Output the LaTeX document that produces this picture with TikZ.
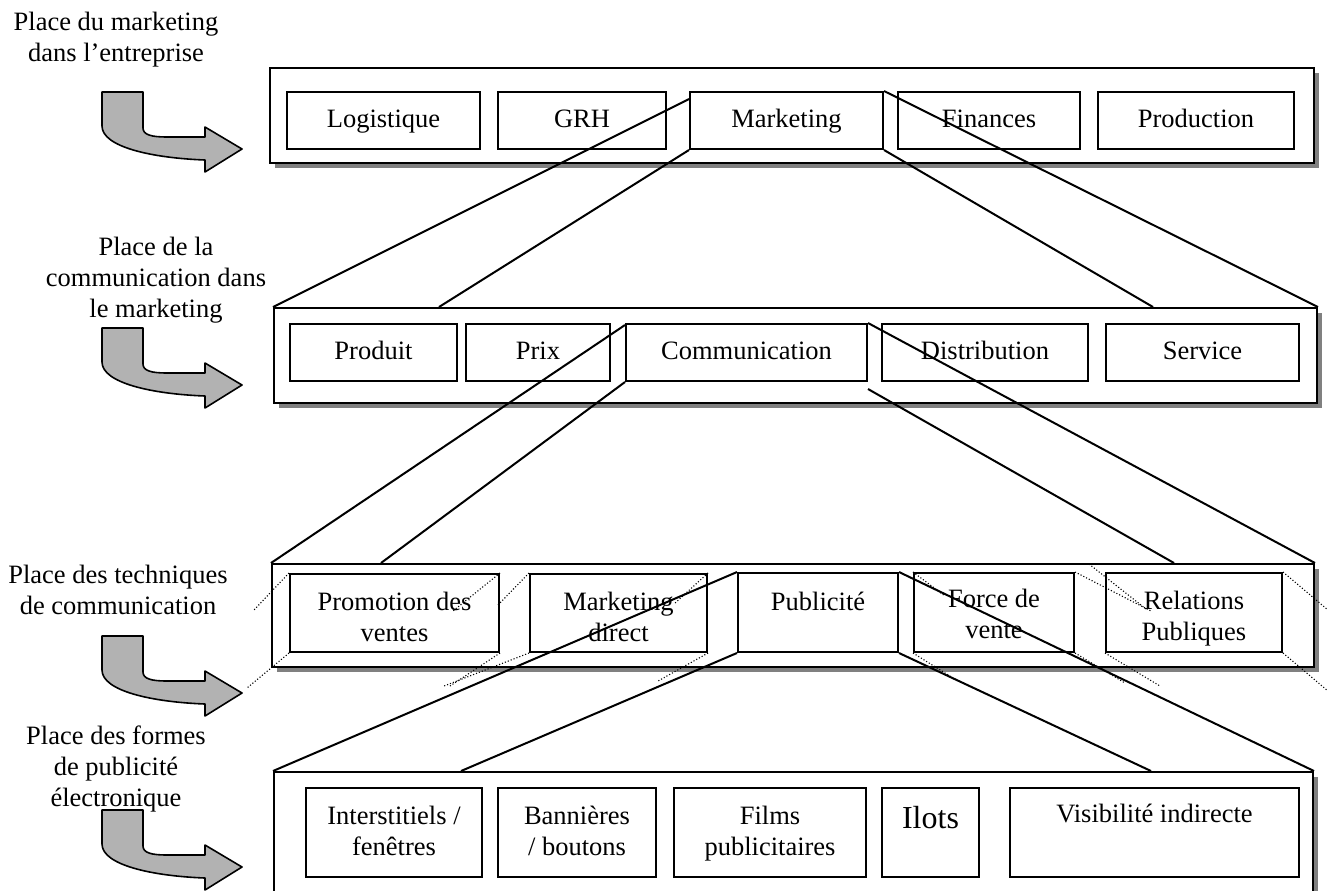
\documentclass[tikz,border=0pt]{standalone}
\usepackage{fontspec}
\setmainfont{Liberation Serif}
\usetikzlibrary{fit,calc,shadows}
\begin{document}
\begin{tikzpicture}[x=0.5pt,y=-0.5pt,
  every node/.style={font=\fontsize{13.25}{15.5}\selectfont},
  obox/.style={draw, line width=1pt, fill=white, inner sep=0pt,
    general shadow={fill=black!50, shadow xshift=2.6pt, shadow yshift=-2.6pt}},
  ibox/.style={draw, line width=1pt, fill=white, inner sep=0pt},
  link/.style={line width=1pt},
  hint/.style={line width=0.55pt, dash pattern=on 0.55pt off 1pt},
  lbl/.style={align=center, inner sep=0pt, anchor=north},
  stxt/.style={inner sep=0pt, anchor=base},
  barrow/.pic={\draw[line width=0.8pt, fill=black!30, line join=round]
     (0,0) -- (41,0) -- (41,36) .. controls (41,43) and (50,45) .. (65,45)
     -- (103,45) -- (103,35) -- (140,57) -- (103,80) -- (103,68)
     .. controls (50,66) and (0,55) .. (0,34) -- cycle;}
]
\useasboundingbox (0,0) rectangle (1327,890);
\clip (0,0) rectangle (1327,890);

% left labels and arrows
\node[lbl] (t1) at (116,12) {Place du marketing\\dans l’entreprise};
\node[lbl] (t2) at (156,237) {Place de la\\communication dans\\le marketing};
\node[lbl] (t3) at (118,565) {Place des techniques\\de communication};
\node[lbl] (t4) at (116,725) {Place des formes\\de publicité\\électronique};
\pic at (102,92) {barrow};
\pic at (102,328) {barrow};
\pic at (102,636) {barrow};
\pic at (102,810) {barrow};

% row 1
\node[obox, fit={(270,68) (1314,163)}] (r1) {};
\node[ibox, fit={(287,92) (480,149)}] (log) {};
\node[ibox, fit={(498,92) (666,149)}] (grh) {};
\node[ibox, fit={(690,92) (883,149)}] (mkt) {};
\node[ibox, fit={(898,92) (1080,149)}] (fin) {};
\node[ibox, fit={(1098,92) (1294,149)}] (prd) {};
\node[stxt] (log-t) at ($(log.north)+(0,36)$) {Logistique};
\node[stxt] (grh-t) at ($(grh.north)+(0,36)$) {GRH};
\node[stxt] (mkt-t) at ($(mkt.north)+(0,36)$) {Marketing};
\node[stxt] (fin-t) at ($(fin.north)+(0,36)$) {Finances};
\node[stxt] (prd-t) at ($(prd.north)+(0,36)$) {Production};

% row 2
\node[obox, fit={(274,308) (1317,403)}] (r2) {};
\node[ibox, fit={(290,324) (457,381)}] (pdt) {};
\node[ibox, fit={(466,324) (610,381)}] (prx) {};
\node[ibox, fit={(626,324) (867,381)}] (com) {};
\node[ibox, fit={(882,324) (1088,381)}] (dis) {};
\node[ibox, fit={(1106,324) (1299,381)}] (srv) {};
\node[stxt] (pdt-t) at ($(pdt.north)+(0,36)$) {Produit};
\node[stxt] (prx-t) at ($(prx.north)+(0,36)$) {Prix};
\node[stxt] (com-t) at ($(com.north)+(0,36)$) {Communication};
\node[stxt] (dis-t) at ($(dis.north)+(0,36)$) {Distribution};
\node[stxt] (srv-t) at ($(srv.north)+(0,36)$) {Service};

% row 3
\node[obox, fit={(272,564) (1314,667)}] (r3) {};
\node[ibox, fit={(290,574) (499,652)}] (pro) {};
\node[ibox, fit={(530,574) (707,652)}] (mkd) {};
\node[ibox, fit={(738,573) (898,652)}] (pub) {};
\node[ibox, fit={(914,573) (1074,652)}] (frc) {};
\node[ibox, fit={(1106,573) (1282,652)}] (rel) {};
\node[lbl] (pro-t) at ($(pro.north)+(0,19)$) {Promotion des\\ventes};
\node[lbl] (mkd-t) at ($(mkd.north)+(0,19)$) {Marketing\\direct};
\node[stxt] (pub-t) at ($(pub.north)+(0,38)$) {Publicité};
\node[lbl] (frc-t) at ($(frc.north)+(0,17)$) {Force de\\vente};
\node[lbl] (rel-t) at ($(rel.north)+(0,19)$) {Relations\\Publiques};

% row 4
\node[obox, fit={(274,772) (1313,920)}] (r4) {};
\node[ibox, fit={(306,788) (482,877)}] (int) {};
\node[ibox, fit={(498,788) (656,877)}] (ban) {};
\node[ibox, fit={(674,788) (866,877)}] (flm) {};
\node[ibox, fit={(882,788) (979,877)}] (ilo) {};
\node[ibox, fit={(1010,788) (1299,877)}] (vis) {};
\node[lbl] (int-t) at ($(int.north)+(0,19)$) {Interstitiels /\\fenêtres};
\node[lbl] (ban-t) at ($(ban.north)+(0,19)$) {Bannières\\/ boutons};
\node[lbl] (flm-t) at ($(flm.north)+(0,19)$) {Films\\publicitaires};
\node[stxt, font=\fontsize{16}{18}\selectfont] (ilo-t) at ($(ilo.north)+(0,41)$) {Ilots};
\node[stxt] (vis-t) at ($(vis.north)+(0,35)$) {Visibilité indirecte};

% connectors row 1 -> row 2
\draw[link] (r2.north west) -- ($(mkt.north west)+(0,8)$);
\draw[link] (mkt.south west) -- ($(r2.north west)+(166,0)$);
\draw[link] (mkt.north east) -- (r2.north east);
\draw[link] (mkt.south east) -- ($(r2.north east)+(-165,0)$);

% connectors row 2 -> row 3
\draw[link] (r3.north west) -- ($(com.north west)+(0,2)$);
\draw[link] (com.south west) -- ($(r3.north west)+(110,0)$);
\draw[link] (com.north east) -- (r3.north east);
\draw[link] ($(com.south east)+(0,7)$) -- ($(r3.north east)+(-141,0)$);

% connectors row 3 -> row 4
\draw[link] (r4.north west) -- (pub.north west);
\draw[link] (pub.south west) -- ($(r4.north west)+(188,0)$);
\draw[link] (pub.north east) -- (r4.north east);
\draw[link] (pub.south east) -- ($(r4.north east)+(-163,0)$);

% dotted perspective hints in row 3
\draw[hint] (pro.north west) -- ++(-35,37);
\draw[hint] (pro.south west) -- ++(-42,35);
\draw[hint] (pro.north east) -- ++(-47,38);
\draw[hint] (pro.south east) -- ++(-50,33);
\draw[hint] (mkd.north west) -- ++(-32,33);
\draw[hint] (mkd.south west) -- ++(-85,33);
\draw[hint] (mkd.north east) -- ++(-34,31);
\draw[hint] (mkd.south east) -- ++(-50,28);
\draw[hint] (frc.north west) -- ++(32,24);
\draw[hint] (frc.south west) -- ++(40,25);
\draw[hint] (frc.north east) -- ++(76,39);
\draw[hint] (frc.south east) -- ++(50,30);
\draw[hint] ($(rel.north west)+(-16,-8)$) -- ++(57,45);
\draw[hint] (rel.south west) -- ++(55,33);
\draw[hint] (rel.north east) -- ++(45,38);
\draw[hint] (rel.south east) -- ++(45,38);
\end{tikzpicture}
\end{document}
